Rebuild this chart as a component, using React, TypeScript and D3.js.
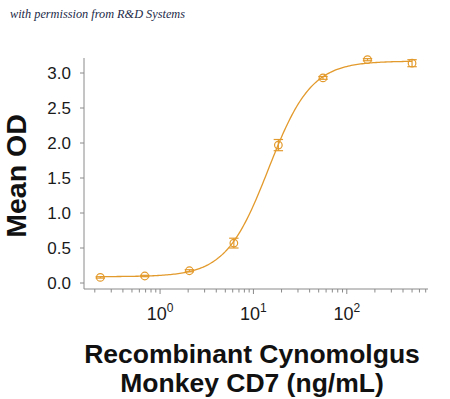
import React from "react";
import * as d3 from "d3";

const concentrations = [0.229, 0.686, 2.06, 6.17, 18.5, 55.6, 166.7, 500];
const meanOD = [0.08, 0.1, 0.175, 0.57, 1.97, 2.93, 3.19, 3.14];
const errorOD = [0.01, 0.01, 0.015, 0.07, 0.08, 0.02, 0.015, 0.05];
const yTicks = [0, 0.5, 1, 1.5, 2, 2.5, 3];
const xMajorExponents = [0, 1, 2];
// 4-parameter logistic fit
const fitBottom = 0.09;
const fitTop = 3.17;
const fitEC50 = 14.5;
const fitHill = 1.9;

const W = 450;
const H = 399;
const ORANGE = "#E39A2C";
const AXIS = "#8a8a8a";

export default function App() {
  const x = d3.scaleLog().domain([0.1532, 741]).range([84, 428]);
  const y = d3.scaleLinear().domain([0, 3]).range([283, 73]);

  const minorTicks: number[] = [];
  for (let e = -1; e <= 2; e++) {
    for (let m = 1; m <= 9; m++) {
      const v = m * Math.pow(10, e);
      if (v >= 0.1532 && v <= 741) minorTicks.push(v);
    }
  }

  const fit = (c: number) =>
    fitBottom + (fitTop - fitBottom) / (1 + Math.pow(fitEC50 / c, fitHill));
  const lo = Math.log10(concentrations[0]);
  const hi = Math.log10(concentrations[concentrations.length - 1]);
  const curveX = d3.range(0, 201).map((i) => Math.pow(10, lo + (i / 200) * (hi - lo)));
  const line = d3
    .line<number>()
    .x((c) => x(c))
    .y((c) => y(fit(c)));

  const capHalf = 4.7;

  return (
    <svg
      width={W}
      height={H}
      style={{ position: "absolute", left: 0, top: 0, background: "#fff" }}
    >
      <text
        x={10}
        y={18}
        fontFamily="'Liberation Serif', serif"
        fontStyle="italic"
        fontSize={12.5}
        fill="#1c2a48"
        textLength={175}
        lengthAdjust="spacingAndGlyphs"
      >
        with permission from R&amp;D Systems
      </text>

      {/* axes */}
      <line x1={84} y1={58} x2={84} y2={289} stroke={AXIS} strokeWidth={1} />
      <line x1={84} y1={289} x2={428} y2={289} stroke={AXIS} strokeWidth={1} />

      {yTicks.map((t) => (
        <g key={t}>
          <line x1={80} x2={84} y1={y(t)} y2={y(t)} stroke={AXIS} />
          <text
            x={71}
            y={y(t)}
            dy="0.35em"
            textAnchor="end"
            fontFamily="'Liberation Sans', Arial, sans-serif"
            fontSize={17}
            fill="#1a1a1a"
          >
            {t.toFixed(1)}
          </text>
        </g>
      ))}

      {minorTicks.map((v) => (
        <line
          key={v}
          x1={x(v)}
          x2={x(v)}
          y1={289}
          y2={Number.isInteger(Math.log10(v)) ? 294 : 292.5}
          stroke={AXIS}
        />
      ))}

      {xMajorExponents.map((e) => (
        <text
          key={e}
          x={x(Math.pow(10, e))}
          y={320}
          textAnchor="middle"
          fontFamily="'Liberation Sans', Arial, sans-serif"
          fontSize={18}
          fill="#1a1a1a"
        >
          10
          <tspan fontSize={12} dy={-8}>
            {e}
          </tspan>
        </text>
      ))}

      {/* fitted curve */}
      <path d={line(curveX) || ""} fill="none" stroke={ORANGE} strokeWidth={1.3} />

      {/* points + error bars */}
      {concentrations.map((c, i) => {
        const cx = x(c);
        const yt = y(meanOD[i] + errorOD[i]);
        const yb = y(meanOD[i] - errorOD[i]);
        return (
          <g key={c} stroke={ORANGE} strokeWidth={1.2} fill="none">
            <line x1={cx} x2={cx} y1={yt} y2={yb} />
            <line x1={cx - capHalf} x2={cx + capHalf} y1={yt} y2={yt} />
            <line x1={cx - capHalf} x2={cx + capHalf} y1={yb} y2={yb} />
            <circle cx={cx} cy={y(meanOD[i])} r={3.8} />
          </g>
        );
      })}

      <text
        transform="translate(26,176) rotate(-90)"
        textAnchor="middle"
        fontFamily="'Liberation Sans', Arial, sans-serif"
        fontWeight="bold"
        fontSize={28.5}
        fill="#111"
      >
        Mean OD
      </text>

      <text
        x={252}
        y={363}
        textAnchor="middle"
        fontFamily="'Liberation Sans', Arial, sans-serif"
        fontWeight="bold"
        fontSize={26.5}
        fill="#111"
      >
        Recombinant Cynomolgus
      </text>
      <text
        x={252}
        y={392}
        textAnchor="middle"
        fontFamily="'Liberation Sans', Arial, sans-serif"
        fontWeight="bold"
        fontSize={26.5}
        fill="#111"
      >
        Monkey CD7 (ng/mL)
      </text>
    </svg>
  );
}
